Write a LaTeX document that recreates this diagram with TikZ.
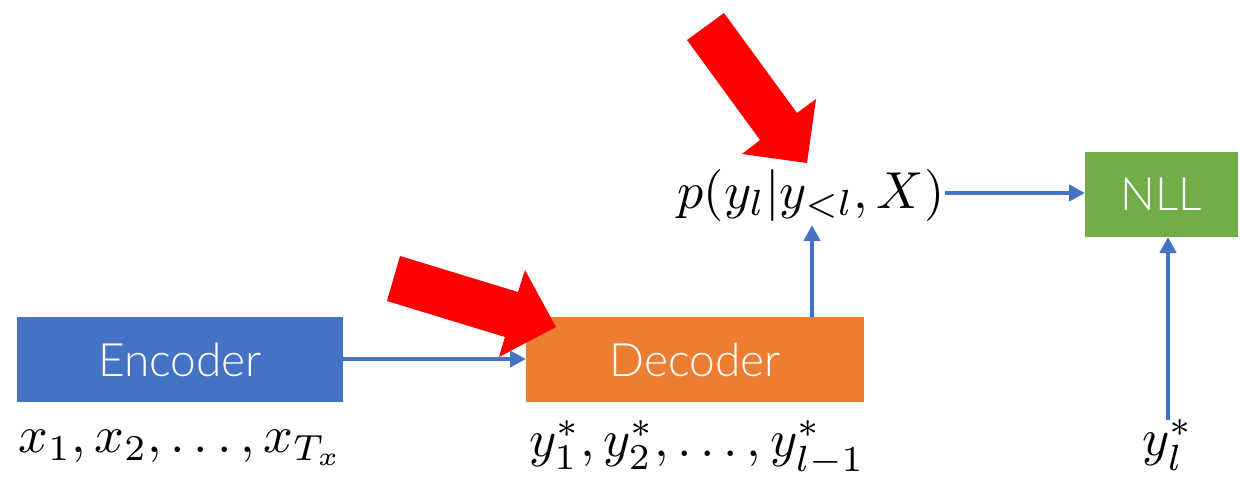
\documentclass[tikz,border=0pt]{standalone}
\usepackage{graphicx}
\usepackage{fontspec}
\newfontfamily\thinsans{Lato Light}
\usetikzlibrary{arrows.meta}
\definecolor{encblue}{HTML}{4472C4}
\definecolor{decorange}{HTML}{ED7D31}
\definecolor{nllgreen}{HTML}{70AD47}
\definecolor{redarrow}{HTML}{FF0000}
\newcommand{\bigmath}[1]{\scalebox{5.2}{$#1$}}
\tikzset{
  box/.style={draw=none, inner sep=0pt, text=white, font=\thinsans\fontsize{46}{50}\selectfont},
  mathlbl/.style={inner sep=0pt},
  barrow/.style={draw=encblue, line width=4pt, -{Triangle[length=16pt,width=16pt]}},
  bigred/.style={fill=redarrow, draw=none}
}
\begin{document}
\begin{tikzpicture}[x=1pt,y=-1pt]
\useasboundingbox (0,0) rectangle (1240,477);
% boxes
\fill[encblue] (17,317) rectangle (343,402);
\node[box] (enc) at (180,359.5) {Encoder};
\fill[decorange] (526,317) rectangle (864,402);
\node[box] (dec) at (695,359.5) {Decoder};
\fill[nllgreen] (1085,152) rectangle (1238,237);
\node[box] (nll) at (1161.5,194.5) {NLL};
\coordinate (encE) at (343,359);
\coordinate (decW) at (526,359);
\coordinate (decN) at (812,317);
\coordinate (pS) at (812,225);
\coordinate (nllW) at (1085,193);
\coordinate (nllS) at (1168,237);
\coordinate (ylN) at (1168,420);
% labels
\node[mathlbl] (p) at (811,195) {\bigmath{p(y_l|y_{<l},X)}};
\node[mathlbl] (xs) at (181,448) {\bigmath{x_1,x_2,\ldots,x_{T_x}}};
\node[mathlbl] (ys) at (697,448) {\bigmath{y^*_1,y^*_2,\ldots,y^*_{l-1}}};
\node[mathlbl] (yl) at (1168,445) {\bigmath{y^*_l}};
% connectors
\draw[barrow] (decN) -- (pS);
\draw[barrow] (encE) -- (decW);
\draw[barrow] (p.east |- nllW) -- (nllW);
\draw[barrow] (ylN) -- (nllS);
% red arrows
\fill[bigred] (400,256) -- (518,292) -- (525,270) -- (556,327) -- (499,357) -- (505,337) -- (387,301) -- cycle;
\fill[bigred] (724,13) -- (797,113) -- (816,99) -- (807,163) -- (742,154) -- (760,140) -- (687,40) -- cycle;
\end{tikzpicture}
\end{document}
